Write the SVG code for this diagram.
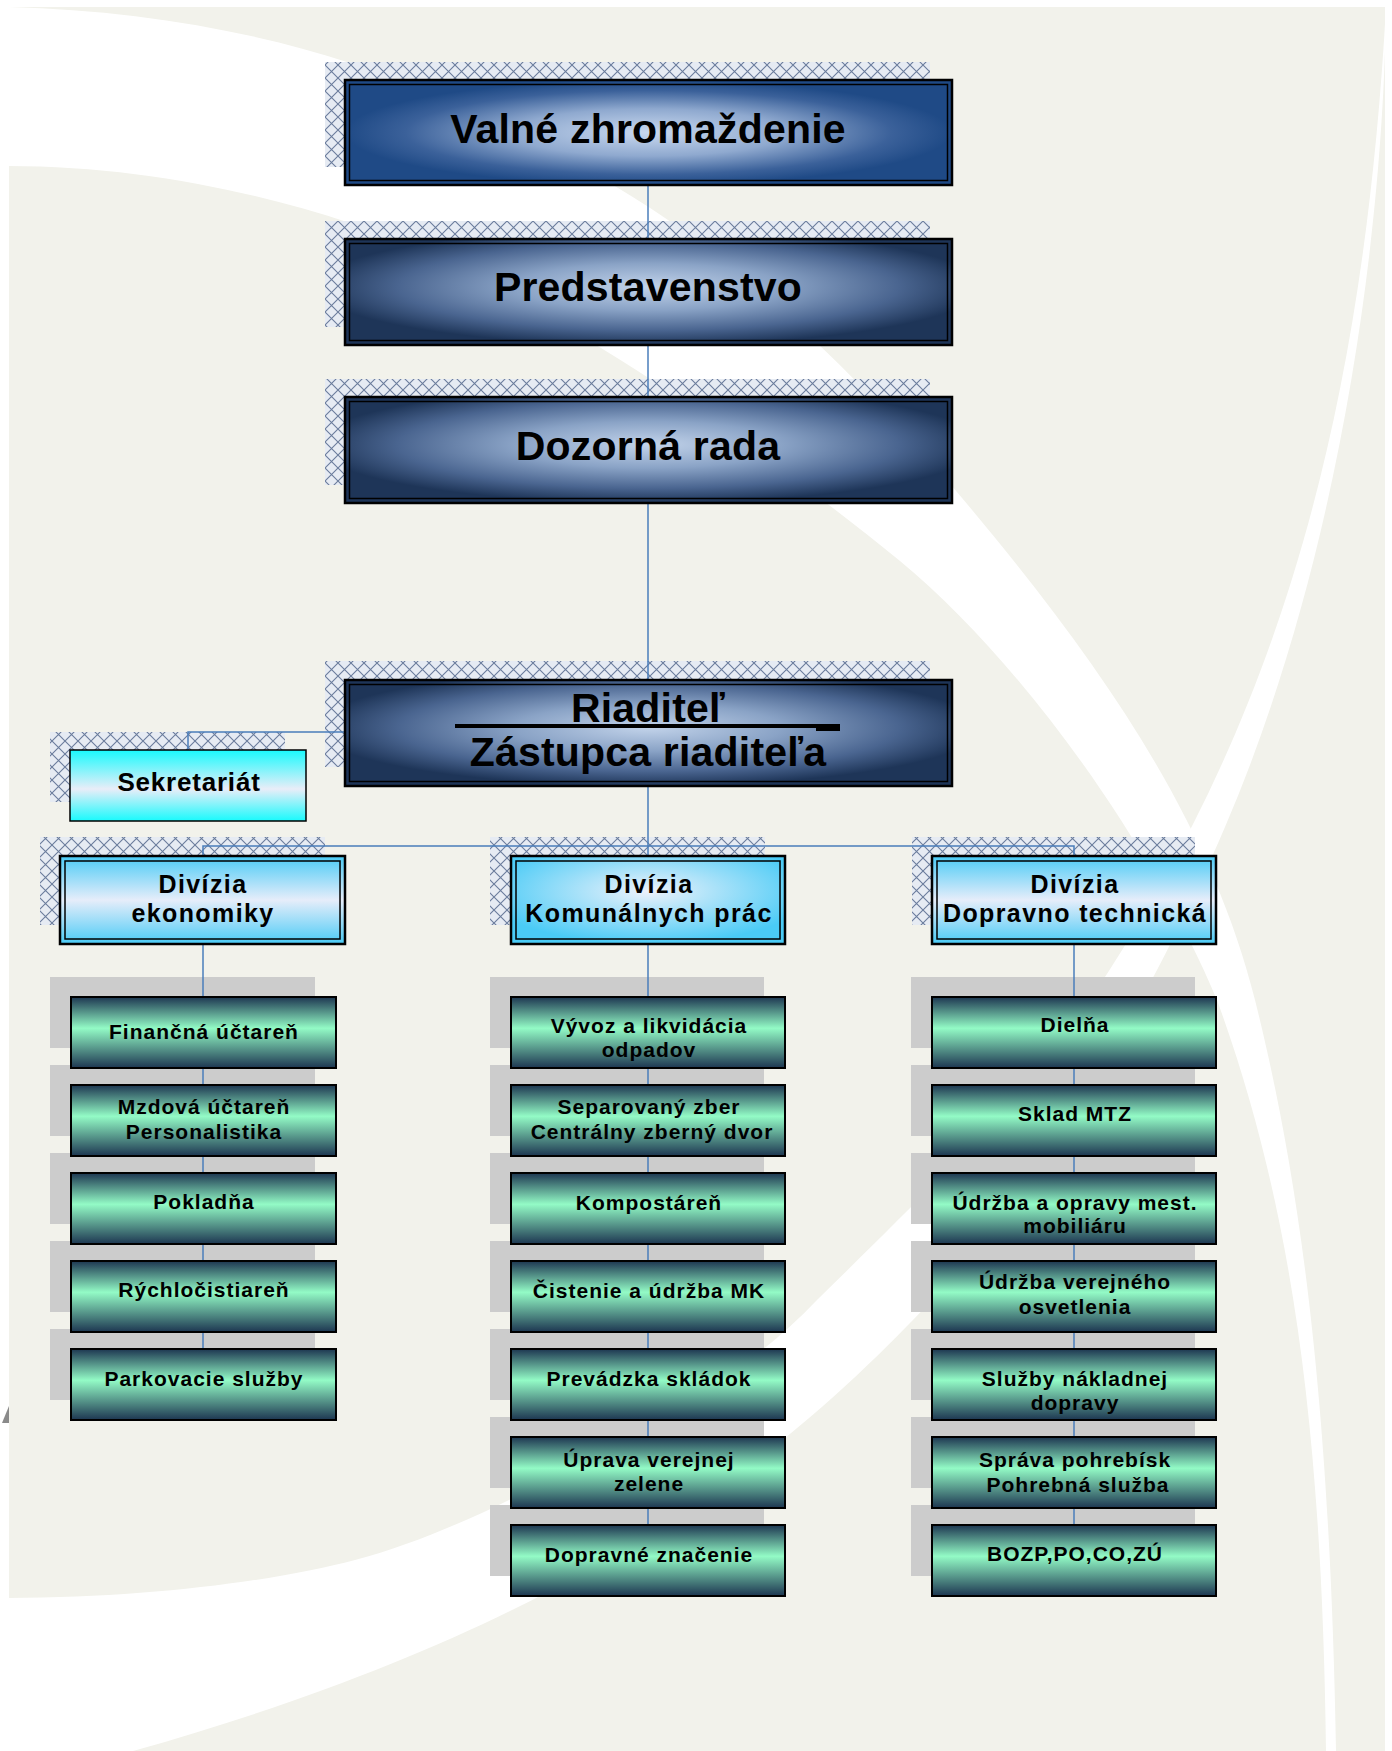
<svg xmlns="http://www.w3.org/2000/svg" width="1392" height="1751" viewBox="0 0 1392 1751">
<defs>
<style>
.t{font-family:"Liberation Sans",Arial,sans-serif;font-weight:bold;fill:#000;text-anchor:middle}
.bt{font-size:41px;letter-spacing:0.2px}
.dt{font-size:25px;letter-spacing:1.4px}
.st{font-size:26px;letter-spacing:0.8px}
.lt{font-size:21px;letter-spacing:1px}
.conn{stroke:#4a7ebb;stroke-width:1.5;fill:none}
.psh{fill:url(#hatch)}
.gsh{fill:#cccccc}
.leaf{fill:url(#gL);stroke:#000;stroke-width:2}
.ob{stroke:#000;stroke-width:2.5}
.ib{fill:none;stroke:#000;stroke-width:1.5}
</style>
<pattern id="hatch" width="13" height="13" patternUnits="userSpaceOnUse">
<rect width="13" height="13" fill="#e6ebf3"/>
<path d="M0 0L13 13M13 0L0 13" stroke="#6a7c9c" stroke-width="1.1"/>
</pattern>
<radialGradient id="gV" cx="0.5" cy="0.5" r="0.5">
<stop offset="0" stop-color="#c9d9ef"/>
<stop offset="0.45" stop-color="#8fa9cf"/>
<stop offset="0.8" stop-color="#3b619a"/>
<stop offset="1" stop-color="#1f4a86"/>
</radialGradient>
<radialGradient id="gP" cx="0.5" cy="0.45" r="0.55">
<stop offset="0" stop-color="#c2d3ea"/>
<stop offset="0.4" stop-color="#8aa3c6"/>
<stop offset="0.75" stop-color="#4a6590"/>
<stop offset="1" stop-color="#1e3558"/>
</radialGradient>
<linearGradient id="gD" x1="0" y1="0" x2="0" y2="1">
<stop offset="0" stop-color="#4acbf6"/>
<stop offset="0.5" stop-color="#e6edfa"/>
<stop offset="1" stop-color="#4acbf6"/>
</linearGradient>
<radialGradient id="gDM" cx="0.5" cy="0.4" r="0.6">
<stop offset="0" stop-color="#eef2fb"/>
<stop offset="1" stop-color="#4acbf6"/>
</radialGradient>
<linearGradient id="gS" x1="0" y1="0" x2="0" y2="1">
<stop offset="0" stop-color="#18fafd"/>
<stop offset="0.55" stop-color="#e9edf8"/>
<stop offset="1" stop-color="#18fafd"/>
</linearGradient>
<linearGradient id="gL" x1="0" y1="0" x2="0" y2="1">
<stop offset="0" stop-color="#1d3651"/>
<stop offset="0.44" stop-color="#93fbc6"/>
<stop offset="1" stop-color="#1d3651"/>
</linearGradient>
</defs>

<g id="background">
<rect x="0" y="0" width="1392" height="1751" fill="#ffffff"/>
<rect x="9" y="7" width="1376" height="1744" fill="#f2f2eb"/>
<path fill="#ffffff" d="M9,7 C130,10 250,30 350,63 C460,100 580,160 668,220 C770,290 880,400 951,485 C1100,660 1210,820 1255,1000 C1300,1180 1330,1400 1336,1751 L1326,1751 C1322,1420 1290,1200 1217,1000 C1150,840 1020,660 900,561 C740,430 500,270 350,223 C250,190 130,166 9,166 Z"/>
<path fill="#ffffff" d="M1386,7 C1384,200 1350,500 1250,765 C1180,950 1050,1180 932,1300 C800,1440 600,1620 133,1751 L0,1751 L0,1598 L9,1598 C150,1598 280,1580 355,1560 C450,1535 550,1480 622,1440 C700,1395 760,1360 817,1300 C950,1170 1040,1080 1090,1000 C1250,760 1360,480 1386,7 Z"/>
<polygon points="2,1423 9,1406 9,1423" fill="#8a8a8a"/>
</g>

<g id="shadows">
<rect class="psh" x="325" y="62" width="605" height="105"/>
<rect class="psh" x="325" y="221" width="605" height="106"/>
<rect class="psh" x="325" y="379" width="605" height="106"/>
<rect class="psh" x="325" y="661" width="605" height="106"/>
<rect class="psh" x="50" y="732" width="235" height="70"/>
<rect class="psh" x="40" y="837" width="285" height="88"/>
<rect class="psh" x="490" y="837" width="275" height="88"/>
<rect class="psh" x="912" y="837" width="283" height="88"/>
<rect class="gsh" x="50" y="977" width="265" height="71"/>
<rect class="gsh" x="50" y="1065" width="265" height="71"/>
<rect class="gsh" x="50" y="1153" width="265" height="71"/>
<rect class="gsh" x="50" y="1241" width="265" height="71"/>
<rect class="gsh" x="50" y="1329" width="265" height="71"/>
<rect class="gsh" x="490" y="977" width="274" height="71"/>
<rect class="gsh" x="490" y="1065" width="274" height="71"/>
<rect class="gsh" x="490" y="1153" width="274" height="71"/>
<rect class="gsh" x="490" y="1241" width="274" height="71"/>
<rect class="gsh" x="490" y="1329" width="274" height="71"/>
<rect class="gsh" x="490" y="1417" width="274" height="71"/>
<rect class="gsh" x="490" y="1505" width="274" height="71"/>
<rect class="gsh" x="911" y="977" width="284" height="71"/>
<rect class="gsh" x="911" y="1065" width="284" height="71"/>
<rect class="gsh" x="911" y="1153" width="284" height="71"/>
<rect class="gsh" x="911" y="1241" width="284" height="71"/>
<rect class="gsh" x="911" y="1329" width="284" height="71"/>
<rect class="gsh" x="911" y="1417" width="284" height="71"/>
<rect class="gsh" x="911" y="1505" width="284" height="71"/>
</g>

<g id="connectors">
<path class="conn" d="M648,185 V856"/>
<path class="conn" d="M345,732 H188 V750"/>
<path class="conn" d="M203,856 V846 H1074 V856"/>
<path class="conn" d="M203,944 V1349"/>
<path class="conn" d="M648,944 V1525"/>
<path class="conn" d="M1074,944 V1525"/>
</g>

<g id="n-valne">
<rect class="ob" x="345" y="80" width="607" height="105" fill="url(#gV)"/>
<rect class="ib" x="349.5" y="84.5" width="598" height="96"/>
<text class="t bt" x="648" y="143">Valné zhromaždenie</text>
</g>
<g id="n-predstavenstvo">
<rect class="ob" x="345" y="239" width="607" height="106" fill="url(#gP)"/>
<rect class="ib" x="349.5" y="243.5" width="598" height="97"/>
<text class="t bt" x="648" y="301">Predstavenstvo</text>
</g>
<g id="n-dozorna">
<rect class="ob" x="345" y="397" width="607" height="106" fill="url(#gP)"/>
<rect class="ib" x="349.5" y="401.5" width="598" height="97"/>
<text class="t bt" x="648" y="460">Dozorná rada</text>
</g>
<g id="n-riaditel">
<rect class="ob" x="345" y="680" width="607" height="106" fill="url(#gP)"/>
<rect class="ib" x="349.5" y="684.5" width="598" height="97"/>
<text class="t bt" x="648" y="722">Riaditeľ</text>
<rect x="455" y="724" width="385" height="4" fill="#000"/>
<rect x="816" y="724" width="24" height="7" fill="#000"/>
<text class="t bt" x="648" y="766">Zástupca riaditeľa</text>
</g>

<g id="n-sekretariat">
<rect x="70" y="750" width="236" height="71" fill="url(#gS)" stroke="#000" stroke-width="1.5"/>
<text class="t st" x="189" y="791">Sekretariát</text>
</g>

<g id="n-div-ekonomiky">
<rect class="ob" x="60" y="856" width="285" height="88" fill="url(#gD)" stroke-width="2"/>
<rect class="ib" x="65" y="861" width="275" height="78"/>
<text class="t dt" x="203" y="893">Divízia</text>
<text class="t dt" x="203" y="922">ekonomiky</text>
</g>
<g id="n-div-komunalnych">
<rect class="ob" x="511" y="856" width="274" height="88" fill="url(#gDM)" stroke-width="2"/>
<rect class="ib" x="516" y="861" width="264" height="78"/>
<text class="t dt" x="649" y="893">Divízia</text>
<text class="t dt" x="649" y="922">Komunálnych prác</text>
</g>
<g id="n-div-dopravno">
<rect class="ob" x="932" y="856" width="284" height="88" fill="url(#gD)" stroke-width="2"/>
<rect class="ib" x="937" y="861" width="274" height="78"/>
<text class="t dt" x="1075" y="893">Divízia</text>
<text class="t dt" x="1075" y="922">Dopravno technická</text>
</g>

<g id="n-financna"><rect class="leaf" x="71" y="997" width="265" height="71"/><text class="t lt" x="204" y="1039">Finančná účtareň</text></g>
<g id="n-mzdova"><rect class="leaf" x="71" y="1085" width="265" height="71"/><text class="t lt" x="204" y="1114">Mzdová účtareň</text><text class="t lt" x="204" y="1139">Personalistika</text></g>
<g id="n-pokladna"><rect class="leaf" x="71" y="1173" width="265" height="71"/><text class="t lt" x="204" y="1209">Pokladňa</text></g>
<g id="n-rychlocistiaren"><rect class="leaf" x="71" y="1261" width="265" height="71"/><text class="t lt" x="204" y="1297">Rýchločistiareň</text></g>
<g id="n-parkovacie"><rect class="leaf" x="71" y="1349" width="265" height="71"/><text class="t lt" x="204" y="1386">Parkovacie služby</text></g>

<g id="n-vyvoz"><rect class="leaf" x="511" y="997" width="274" height="71"/><text class="t lt" x="649" y="1033">Vývoz a likvidácia</text><text class="t lt" x="649" y="1057">odpadov</text></g>
<g id="n-separovany"><rect class="leaf" x="511" y="1085" width="274" height="71"/><text class="t lt" x="649" y="1114">Separovaný zber</text><text class="t lt" x="652" y="1139">Centrálny zberný dvor</text></g>
<g id="n-kompostaren"><rect class="leaf" x="511" y="1173" width="274" height="71"/><text class="t lt" x="649" y="1210">Kompostáreň</text></g>
<g id="n-cistenie"><rect class="leaf" x="511" y="1261" width="274" height="71"/><text class="t lt" x="649" y="1298">Čistenie a údržba MK</text></g>
<g id="n-prevadzka"><rect class="leaf" x="511" y="1349" width="274" height="71"/><text class="t lt" x="649" y="1386">Prevádzka skládok</text></g>
<g id="n-uprava"><rect class="leaf" x="511" y="1437" width="274" height="71"/><text class="t lt" x="649" y="1467">Úprava verejnej</text><text class="t lt" x="649" y="1491">zelene</text></g>
<g id="n-dopravne"><rect class="leaf" x="511" y="1525" width="274" height="71"/><text class="t lt" x="649" y="1562">Dopravné značenie</text></g>

<g id="n-dielna"><rect class="leaf" x="932" y="997" width="284" height="71"/><text class="t lt" x="1075" y="1032">Dielňa</text></g>
<g id="n-sklad"><rect class="leaf" x="932" y="1085" width="284" height="71"/><text class="t lt" x="1075" y="1121">Sklad MTZ</text></g>
<g id="n-udrzba-mob"><rect class="leaf" x="932" y="1173" width="284" height="71"/><text class="t lt" x="1075" y="1210">Údržba a opravy mest.</text><text class="t lt" x="1075" y="1233">mobiliáru</text></g>
<g id="n-udrzba-osv"><rect class="leaf" x="932" y="1261" width="284" height="71"/><text class="t lt" x="1075" y="1289">Údržba verejného</text><text class="t lt" x="1075" y="1314">osvetlenia</text></g>
<g id="n-sluzby"><rect class="leaf" x="932" y="1349" width="284" height="71"/><text class="t lt" x="1075" y="1386">Služby nákladnej</text><text class="t lt" x="1075" y="1410">dopravy</text></g>
<g id="n-sprava"><rect class="leaf" x="932" y="1437" width="284" height="71"/><text class="t lt" x="1075" y="1467">Správa pohrebísk</text><text class="t lt" x="1078" y="1492">Pohrebná služba</text></g>
<g id="n-bozp"><rect class="leaf" x="932" y="1525" width="284" height="71"/><text class="t lt" x="1075" y="1561">BOZP,PO,CO,ZÚ</text></g>
</svg>
